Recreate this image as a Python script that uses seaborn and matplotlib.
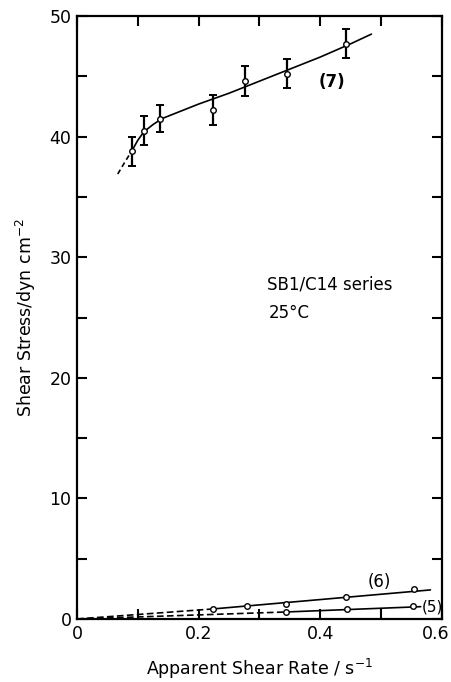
import matplotlib
matplotlib.use("Agg")
import matplotlib.pyplot as plt
import matplotlib.transforms as mtransforms
import seaborn as sns
from matplotlib.ticker import MultipleLocator

# ---- data ----
x7 = [0.090, 0.110, 0.137, 0.223, 0.277, 0.346, 0.443]
y7 = [38.8, 40.5, 41.5, 42.2, 44.6, 45.2, 47.7]
e7 = [1.2, 1.2, 1.15, 1.25, 1.25, 1.2, 1.2]

x6 = [0.223, 0.279, 0.343, 0.443, 0.554]
y6 = [0.83, 1.08, 1.27, 1.80, 2.49]

x5 = [0.343, 0.444, 0.552]
y5 = [0.58, 0.83, 1.10]

# fitted curves (solid part / dashed extrapolation)
fit7_x = [0.090, 0.100, 0.110, 0.125, 0.140, 0.200, 0.250, 0.300, 0.350, 0.400, 0.450, 0.484]
fit7_y = [38.8, 39.7, 40.4, 41.0, 41.5, 42.7, 43.6, 44.6, 45.6, 46.6, 47.7, 48.5]
dash7_x = [0.067, 0.080, 0.090]
dash7_y = [36.9, 38.0, 38.8]

fit6_x = [0.223, 0.581]
fit6_y = [0.83, 2.41]
dash6_x = [0.0, 0.223]
dash6_y = [0.0, 0.83]

fit5_x = [0.343, 0.565]
fit5_y = [0.58, 1.02]
dash5_x = [0.0, 0.343]
dash5_y = [0.0, 0.58]

x_ticks = [0, 0.2, 0.4, 0.6]
x_ticklabels = ["0", "0.2", "0.4", "0.6"]
y_ticks = [0, 10, 20, 30, 40, 50]

sns.set_style("ticks")
plt.rcParams['font.family'] = ['DejaVu Sans']
plt.rcParams['text.color'] = 'black'
plt.rcParams['axes.labelcolor'] = 'black'
plt.rcParams['xtick.color'] = 'black'
plt.rcParams['ytick.color'] = 'black'

fig = plt.figure(figsize=(4.51, 6.82), dpi=100)
ax = fig.add_axes([0.1707, 0.0924, 0.8093, 0.8841])

lw = 1.2
sns.lineplot(x=fit7_x, y=fit7_y, ax=ax, color="black", lw=lw, sort=False)
sns.lineplot(x=dash7_x, y=dash7_y, ax=ax, color="black", lw=lw, sort=False, linestyle=(0, (3, 2)))
sns.lineplot(x=fit6_x, y=fit6_y, ax=ax, color="black", lw=lw, sort=False)
sns.lineplot(x=dash6_x, y=dash6_y, ax=ax, color="black", lw=lw, sort=False, linestyle=(0, (4, 2)))
sns.lineplot(x=fit5_x, y=fit5_y, ax=ax, color="black", lw=lw, sort=False)
sns.lineplot(x=dash5_x, y=dash5_y, ax=ax, color="black", lw=lw, sort=False, linestyle=(0, (4, 2)))

ax.errorbar(x7, y7, yerr=e7, fmt="none", ecolor="black", elinewidth=1.6, capsize=3, capthick=1.4, zorder=3)

for xs, ys in [(x7, y7), (x6, y6), (x5, y5)]:
    sns.scatterplot(x=xs, y=ys, ax=ax, marker="o", s=16, facecolor="white",
                    edgecolor="black", linewidth=1.0, zorder=4)

ax.set_xlim(0, 0.6)
ax.set_ylim(0, 50)
ax.set_xticks(x_ticks)
ax.set_xticklabels(x_ticklabels)
ax.set_yticks(y_ticks)
ax.xaxis.set_minor_locator(MultipleLocator(0.1))
ax.yaxis.set_minor_locator(MultipleLocator(5))
ax.tick_params(which="both", direction="in", top=True, right=True, width=1.5,
               labelsize=12.5, pad=4, colors="black")
ax.tick_params(which="both", length=7)
for s in ax.spines.values():
    s.set_visible(True)
    s.set_linewidth(1.6)
    s.set_color("black")

# nudge last x tick label left so it stays inside the figure
lab = ax.get_xticklabels()[-1]
lab.set_transform(lab.get_transform() + mtransforms.ScaledTranslation(-6 / 100, 0, fig.dpi_scale_trans))

ax.set_xlabel("Apparent Shear Rate / s$^{-1}$", fontsize=12.5, labelpad=10)
ax.set_ylabel("Shear Stress/dyn cm$^{-2}$", fontsize=12.5, labelpad=8)

ax.text(0.398, 44.5, "(7)", fontsize=12, fontweight="bold", va="center", ha="left")
ax.text(0.478, 3.1, "(6)", fontsize=12, va="center", ha="left")
ax.text(0.567, 1.0, "(5)", fontsize=11, va="center", ha="left")
ax.text(0.313, 27.7, "SB1/C14 series", fontsize=12, va="center", ha="left")
ax.text(0.316, 25.4, "25°C", fontsize=12, va="center", ha="left")

fig.savefig("out.png", dpi=100)
